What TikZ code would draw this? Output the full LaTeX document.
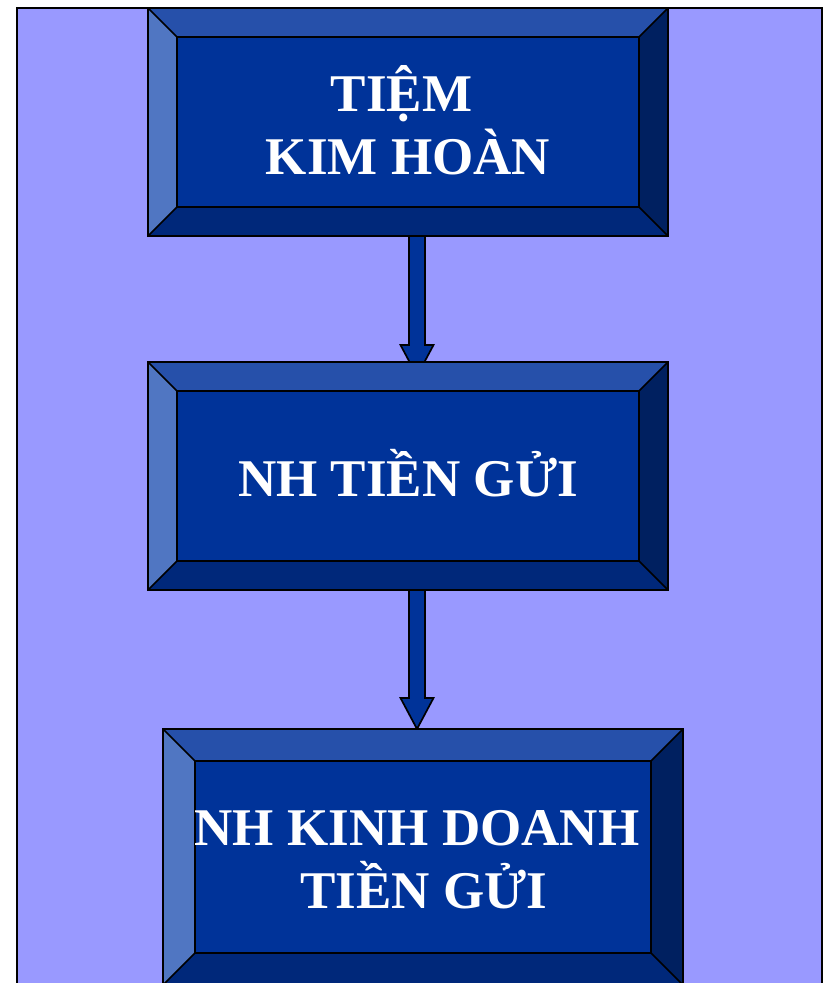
\documentclass[tikz,border=0pt]{standalone}
\usepackage{fontspec}
\setmainfont{Liberation Serif}
\usetikzlibrary{calc}
\definecolor{lav}{RGB}{153,153,255}
\definecolor{topc}{RGB}{38,80,170}
\definecolor{leftc}{RGB}{80,118,194}
\definecolor{facec}{RGB}{0,51,153}
\definecolor{botc}{RGB}{0,40,122}
\definecolor{rightc}{RGB}{0,32,96}
\tikzset{
  outerbox/.style={inner sep=0pt, outer sep=0pt, draw=none},
  edge/.style={draw=black, line width=1.7pt, line join=miter},
  fatarrow/.style={fill=facec, draw=black, line width=1.7pt, line join=miter},
  lbl/.style={text=white, align=center, inner sep=0pt,
    font=\fontsize{53}{63}\selectfont\bfseries}
}
\newcommand\bevelbox[2]{%
  \coordinate (#1-inw) at ($(#1.north west)+(#2,-#2)$);
  \coordinate (#1-ine) at ($(#1.north east)+(-#2,-#2)$);
  \coordinate (#1-isw) at ($(#1.south west)+(#2,#2)$);
  \coordinate (#1-ise) at ($(#1.south east)+(-#2,#2)$);
  \fill[topc] (#1.north west) -- (#1.north east) -- (#1-ine) -- (#1-inw) -- cycle;
  \fill[leftc] (#1.north west) -- (#1-inw) -- (#1-isw) -- (#1.south west) -- cycle;
  \fill[botc] (#1.south west) -- (#1-isw) -- (#1-ise) -- (#1.south east) -- cycle;
  \fill[rightc] (#1.north east) -- (#1.south east) -- (#1-ise) -- (#1-ine) -- cycle;
  \fill[facec] (#1-inw) rectangle (#1-ise);
  \draw[edge] (#1.north west) rectangle (#1.south east);
  \draw[edge] (#1-inw) rectangle (#1-ise);
  \draw[edge] (#1.north west) -- (#1-inw);
  \draw[edge] (#1.north east) -- (#1-ine);
  \draw[edge] (#1.south west) -- (#1-isw);
  \draw[edge] (#1.south east) -- (#1-ise);
}
\newcommand\drawfatarrow[2]{%
  \draw[fatarrow] let \p1=(#1), \p2=(#2) in
    (\x1-8pt,\y1) -- (\x1-8pt,\y2+31pt) -- (\x1-16.5pt,\y2+31pt) -- (\x1,\y2)
    -- (\x1+16.5pt,\y2+31pt) -- (\x1+8pt,\y2+31pt) -- (\x1+8pt,\y1) -- cycle;
}
\begin{document}
\begin{tikzpicture}[x=1pt,y=1pt]
\useasboundingbox (0,0) rectangle (823,983);
\fill[white] (0,0) rectangle (823,983);
\fill[lav] (17,-5) rectangle (822,975);
\draw[line width=2pt] (17,-5) -- (17,975) -- (822,975) -- (822,-5);

% box placeholders
\node[outerbox, minimum width=520pt, minimum height=228pt] (o1) at (408,861) {};
\node[outerbox, minimum width=520pt, minimum height=228pt] (o2) at (408,507) {};
\node[outerbox, minimum width=520pt, minimum height=256pt] (o3) at (423,126) {};

% arrows (under boxes)
\coordinate (a1s) at ($(o1.south)+(9,0)$);
\coordinate (a1e) at ($(o2.north)+(9,-14)$);
\coordinate (a2s) at ($(o2.south)+(9,0)$);
\coordinate (a2e) at ($(o3.north)+(-6,0)$);
\drawfatarrow{a1s}{a1e}
\drawfatarrow{a2s}{a2e}

\bevelbox{o1}{29}
\bevelbox{o2}{29}
\bevelbox{o3}{32}

\node[lbl, anchor=base] (t1) at (408,808) {TIỆM\kern0.25em\\KIM HOÀN};
\node[lbl, anchor=base] (t2) at (408,486) {NH TIỀN GỬI};
\node[lbl, anchor=base] (t3) at (417,74) {NH KINH DOANH\\\kern0.25em TIỀN GỬI};
\end{tikzpicture}
\end{document}
